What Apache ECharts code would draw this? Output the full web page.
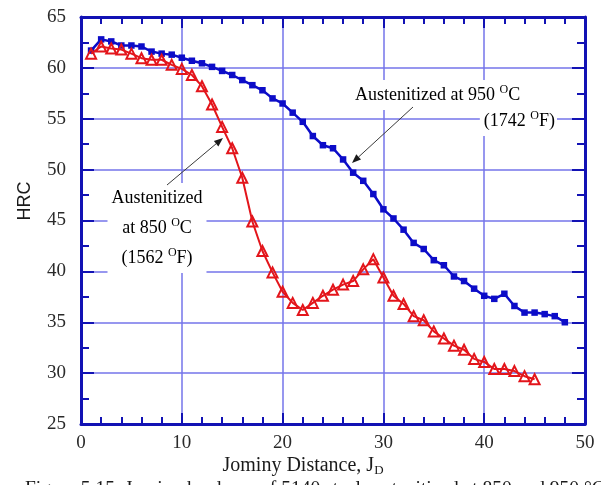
<!DOCTYPE html>
<html>
<head>
<meta charset="utf-8">
<style>
  html, body { margin: 0; padding: 0; background: #fff; }
  #chart { width: 601px; height: 485px; }
</style>
<script src="https://cdn.jsdelivr.net/npm/echarts@6/dist/echarts.min.js"></script>
</head>
<body>
<div id="chart"></div>
<script>
// Jominy end-quench hardness profiles
const jominyDistance950 = [1, 2, 3, 4, 5, 6, 7, 8, 9, 10, 11, 12, 13, 14, 15, 16, 17, 18, 19, 20,
  21, 22, 23, 24, 25, 26, 27, 28, 29, 30, 31, 32, 33, 34, 35, 36, 37, 38, 39, 40,
  41, 42, 43, 44, 45, 46, 47, 48];
const hrc950 = [61.7, 62.8, 62.6, 62.2, 62.2, 62.1, 61.6, 61.4, 61.3, 61.0,
  60.7, 60.45, 60.1, 59.7, 59.3, 58.8, 58.3, 57.8, 57.0, 56.5,
  55.6, 54.7, 53.3, 52.4, 52.1, 51.0, 49.7, 48.9, 47.6, 46.1,
  45.2, 44.1, 42.8, 42.2, 41.1, 40.6, 39.5, 39.05, 38.3, 37.6,
  37.3, 37.8, 36.6, 35.95, 35.95, 35.8, 35.6, 35.0];

const jominyDistance850 = [1, 2, 3, 4, 5, 6, 7, 8, 9, 10, 11, 12, 13, 14, 15, 16, 17, 18, 19, 20,
  21, 22, 23, 24, 25, 26, 27, 28, 29, 30, 31, 32, 33, 34, 35, 36, 37, 38, 39, 40,
  41, 42, 43, 44, 45];
const hrc850 = [61.4, 62.1, 61.9, 61.8, 61.4, 60.95, 60.8, 60.8, 60.3, 59.9,
  59.3, 58.2, 56.4, 54.2, 52.1, 49.2, 44.9, 42.0, 39.9, 38.0,
  36.9, 36.2, 36.9, 37.6, 38.2, 38.7, 39.05, 40.2, 41.2, 39.4,
  37.6, 36.8, 35.6, 35.2, 34.1, 33.4, 32.7, 32.3, 31.4, 31.1,
  30.4, 30.4, 30.2, 29.7, 29.4];

const xTicks = [0, 10, 20, 30, 40, 50];
const yTicks = [25, 30, 35, 40, 45, 50, 55, 60, 65];

const axisTitleX = 'Jominy Distance, ';
const axisTitleXSub = 'D';
const axisTitleY = 'HRC';
const caption = 'Figure 5.15. Jominy hardness of 5140 steel austenitized at 850 and 950 \u00B0C';

const SERIF = '"Liberation Serif", "DejaVu Serif", serif';
const SANS = '"Liberation Sans", Arial, sans-serif';
const FRAME = '#1212b4';
const GRID = '#7474ea';
const BLUE = '#0c0cc8';
const RED = '#e3151b';

function pairs(xs, ys) {
  return ys.map(function (v, i) { return [xs[i], v]; });
}

function baseX(pos, show) {
  return {
    type: 'value', position: pos, min: xTicks[0], max: xTicks[xTicks.length - 1], interval: 10,
    axisLine: { show: true, onZero: false, lineStyle: { color: FRAME, width: 3 } },
    axisTick: { show: true, inside: true, length: 11, lineStyle: { color: FRAME, width: 2 } },
    minorTick: { show: true, splitNumber: 5, length: 7, lineStyle: { color: FRAME, width: 2 } },
    splitLine: { show: show, lineStyle: { color: GRID, width: 1.5 } },
    axisLabel: { show: show, margin: 10, fontFamily: SERIF, fontSize: 19, color: '#2a2a2a' }
  };
}
function baseY(pos, show) {
  return {
    type: 'value', position: pos, min: yTicks[0], max: yTicks[yTicks.length - 1], interval: 5,
    axisLine: { show: true, onZero: false, lineStyle: { color: FRAME, width: 3 } },
    axisTick: { show: true, inside: true, length: 13, lineStyle: { color: FRAME, width: 2 } },
    minorTick: { show: true, splitNumber: 2, length: 8, lineStyle: { color: FRAME, width: 2 } },
    splitLine: { show: show, lineStyle: { color: GRID, width: 1.5 } },
    axisLabel: { show: show, margin: 15, fontFamily: SERIF, fontSize: 19, color: '#2a2a2a' }
  };
}

// arrow drawn as a shaft plus a filled head
function arrow(x1, y1, x2, y2) {
  const ang = Math.atan2(y2 - y1, x2 - x1);
  const L = 9, W = 3.5;
  const bx = x2 - L * Math.cos(ang), by = y2 - L * Math.sin(ang);
  const px = -Math.sin(ang) * W, py = Math.cos(ang) * W;
  return [
    { type: 'line', z: 50, shape: { x1: x1, y1: y1, x2: bx, y2: by }, style: { stroke: '#3a3a3a', lineWidth: 1 } },
    { type: 'polygon', z: 50, shape: { points: [[x2, y2], [bx + px, by + py], [bx - px, by - py]] }, style: { fill: '#1a1a1a' } }
  ];
}

const rich = {
  t: { fontFamily: SERIF, fontSize: 18, color: '#2a2a2a', lineHeight: 30 },
  s: { fontFamily: SERIF, fontSize: 12, color: '#2a2a2a', lineHeight: 30, verticalAlign: 'top', padding: [4, 0, 0, 0] }
};

const chart = echarts.init(document.getElementById('chart'), null, { renderer: 'canvas' });
chart.setOption({
  animation: false,
  backgroundColor: '#fff',
  grid: { left: 81, right: 16, top: 17, bottom: 61, containLabel: false },
  xAxis: [baseX('bottom', true), baseX('top', false)],
  yAxis: [baseY('left', true), baseY('right', false)],
  series: [
    {
      name: '950', type: 'line', xAxisIndex: 0, yAxisIndex: 0, z: 3,
      data: pairs(jominyDistance950, hrc950),
      symbol: 'rect', symbolSize: 6.5, showAllSymbol: true,
      lineStyle: { color: BLUE, width: 2.5 },
      itemStyle: { color: BLUE, borderWidth: 0 }
    },
    {
      name: '850', type: 'line', xAxisIndex: 0, yAxisIndex: 0, z: 4,
      data: pairs(jominyDistance850, hrc850),
      symbol: 'triangle', symbolSize: 10, showAllSymbol: true,
      lineStyle: { color: RED, width: 2 },
      itemStyle: { color: 'rgba(255,255,255,0)', borderColor: RED, borderWidth: 2 }
    }
  ],
  graphic: [
    // axis titles
    {
      type: 'text', x: 25, y: 201, rotation: Math.PI / 2,
      style: { text: axisTitleY, fontFamily: SANS, fontSize: 18, fill: '#1a1a1a', align: 'center', verticalAlign: 'middle' }
    },
    {
      type: 'text', x: 303, y: 466,
      style: {
        text: '{t|' + axisTitleX + 'J}{d|' + axisTitleXSub + '}',
        align: 'center', verticalAlign: 'middle',
        rich: {
          t: { fontFamily: SERIF, fontSize: 20, fill: '#1a1a1a', lineHeight: 22 },
          d: { fontFamily: SERIF, fontSize: 13, fill: '#1a1a1a', lineHeight: 22, verticalAlign: 'bottom', padding: [8, 0, 0, 0] }
        }
      }
    },
    // caption, partly below the page edge
    {
      type: 'text', x: 25, y: 479,
      style: { text: caption, fontFamily: SERIF, fontSize: 19.5, fill: '#1a1a1a', align: 'left', verticalAlign: 'top' }
    },
    // 950 label
    {
      type: 'text', x: 353, y: 95, z: 40,
      style: {
        text: '{t|Austenitized at 950 }{s|O}{t|C}', align: 'left', verticalAlign: 'middle',
        backgroundColor: '#fff', padding: [0, 2, 0, 2], rich: rich
      }
    },
    {
      type: 'text', x: 557, y: 121, z: 40,
      style: {
        text: '{t|(1742 }{s|O}{t|F)}', align: 'right', verticalAlign: 'middle',
        backgroundColor: '#fff', padding: [0, 2, 0, 4], rich: rich
      }
    },
    // 850 label
    {
      type: 'text', x: 157, y: 228, z: 40,
      style: {
        text: '{t|Austenitized}\n{t|at 850 }{s|O}{t|C}\n{t|(1562 }{s|O}{t|F)}',
        align: 'center', verticalAlign: 'middle',
        backgroundColor: '#fff', padding: [0, 4, 0, 4], rich: rich
      }
    }
  ].concat(arrow(413, 107, 352, 163)).concat(arrow(167, 185, 223, 138))
});
</script>
</body>
</html>
